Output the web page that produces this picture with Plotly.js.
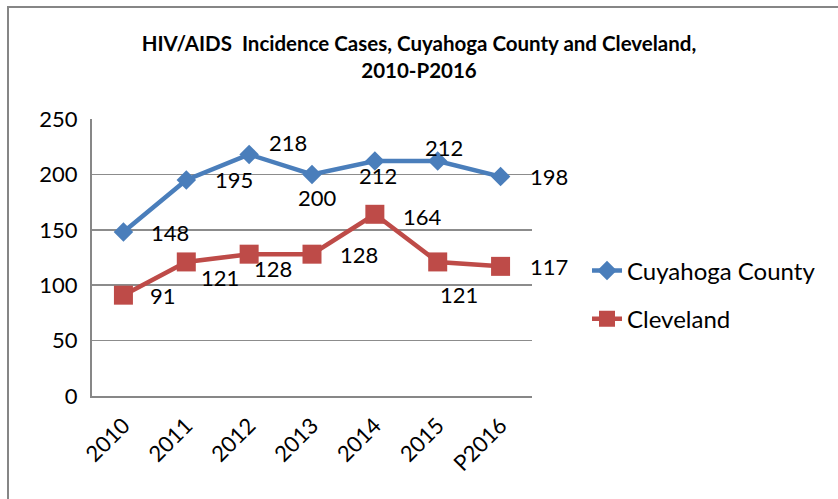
<!DOCTYPE html>
<html>
<head>
<meta charset="utf-8">
<script src="https://cdn.plot.ly/plotly-3.0.1.min.js"></script>
<style>
  html, body { margin: 0; padding: 0; background: #fff; }
  #wrap { position: relative; width: 838px; height: 499px; }
  #chart { width: 838px; height: 499px; }
  #frame { position: absolute; left: 7px; top: 6px; right: 0; bottom: 0;
           border-top: 2px solid #868686; border-left: 2px solid #868686; pointer-events: none; }
</style>
</head>
<body>
<div id="wrap"><div id="chart"></div><div id="frame"></div></div>
<script>
// ---- data ----
const years = ['2010', '2011', '2012', '2013', '2014', '2015', 'P2016'];
const cuyahoga = [148, 195, 218, 200, 212, 212, 198];
const cleveland = [91, 121, 128, 128, 164, 121, 117];
const seriesNames = ['Cuyahoga County', 'Cleveland'];
const yTicks = [0, 50, 100, 150, 200, 250];

// ---- label placement (pixel offsets from each point) ----
const cuyLabelAnchor = ['left', 'left', 'left', 'center', 'center', 'center', 'left'];
const cuyLabelDx = [26, 27, 18, 5, 3, 6, 27];
const cuyLabelDy = [0, 0, 12, -23, -14, 14, 0];
const cleLabelAnchor = ['left', 'center', 'center', 'left', 'left', 'center', 'left'];
const cleLabelDx = [25, 34, 24, 26, 26, 21, 27];
const cleLabelDy = [0, -16, -14, 0, -2, -33, 0];

const FONT = 'Lato, "Open Sans", sans-serif';
const BLUE = '#4A7EBB';
const RED = '#BE4B48';

const traces = [
  {
    x: years, y: cuyahoga, name: seriesNames[0], type: 'scatter', mode: 'lines+markers',
    line: { color: BLUE, width: 4.5 },
    marker: { symbol: 'diamond', size: 15, color: BLUE },
    legendgroup: 'a', cliponaxis: false
  },
  {
    x: years, y: cleveland, name: seriesNames[1], type: 'scatter', mode: 'lines+markers',
    line: { color: RED, width: 4.5 },
    marker: { symbol: 'square', size: 19, color: RED },
    legendgroup: 'b', cliponaxis: false
  }
];

const annotations = [];
function addLabels(vals, anchor, dx, dy) {
  vals.forEach((v, i) => {
    annotations.push({
      x: i, y: v, xref: 'x', yref: 'y', text: String(v), showarrow: false,
      xanchor: anchor[i], yanchor: 'middle', xshift: dx[i], yshift: dy[i],
      font: { family: FONT, size: 22, color: '#000' }
    });
  });
}
addLabels(cuyahoga, cuyLabelAnchor, cuyLabelDx, cuyLabelDy);
addLabels(cleveland, cleLabelAnchor, cleLabelDx, cleLabelDy);

const layout = {
  width: 838, height: 499,
  margin: { l: 92, r: 306, t: 119, b: 103 },
  paper_bgcolor: '#fff', plot_bgcolor: '#fff',
  font: { family: FONT, color: '#000' },
  title: {
    text: 'HIV/AIDS\u00a0 Incidence Cases, Cuyahoga County and Cleveland,<br>2010-P2016',
    font: { family: FONT, size: 20.5, color: '#000', weight: 'bold' },
    x: 0.5, xanchor: 'center', yref: 'container', y: 0.897, yanchor: 'middle'
  },
  xaxis: {
    type: 'category', range: [-0.5, 6.5], tickangle: -45,
    tickfont: { family: FONT, size: 22, color: '#000' },
    showgrid: false, showline: true, linecolor: '#878787', linewidth: 2,
    ticks: '', ticklabelstandoff: 6, zeroline: false, fixedrange: true
  },
  yaxis: {
    range: [0, 250], tickvals: yTicks, ticktext: yTicks.map(String),
    tickfont: { family: FONT, size: 22, color: '#000' },
    showgrid: true, gridcolor: '#8C8C8C', gridwidth: 1.5,
    showline: true, linecolor: '#878787', linewidth: 2,
    ticks: '', ticklabelstandoff: 8, zeroline: false, fixedrange: true
  },
  showlegend: true,
  legend: {
    x: 1.125, xanchor: 'left', y: 0.365, yanchor: 'middle',
    font: { family: FONT, size: 24, color: '#000' },
    tracegroupgap: 14, bgcolor: 'rgba(0,0,0,0)', itemwidth: 30
  },
  annotations: annotations
};

Plotly.newPlot('chart', traces, layout, { staticPlot: true, displayModeBar: false });
</script>
</body>
</html>
